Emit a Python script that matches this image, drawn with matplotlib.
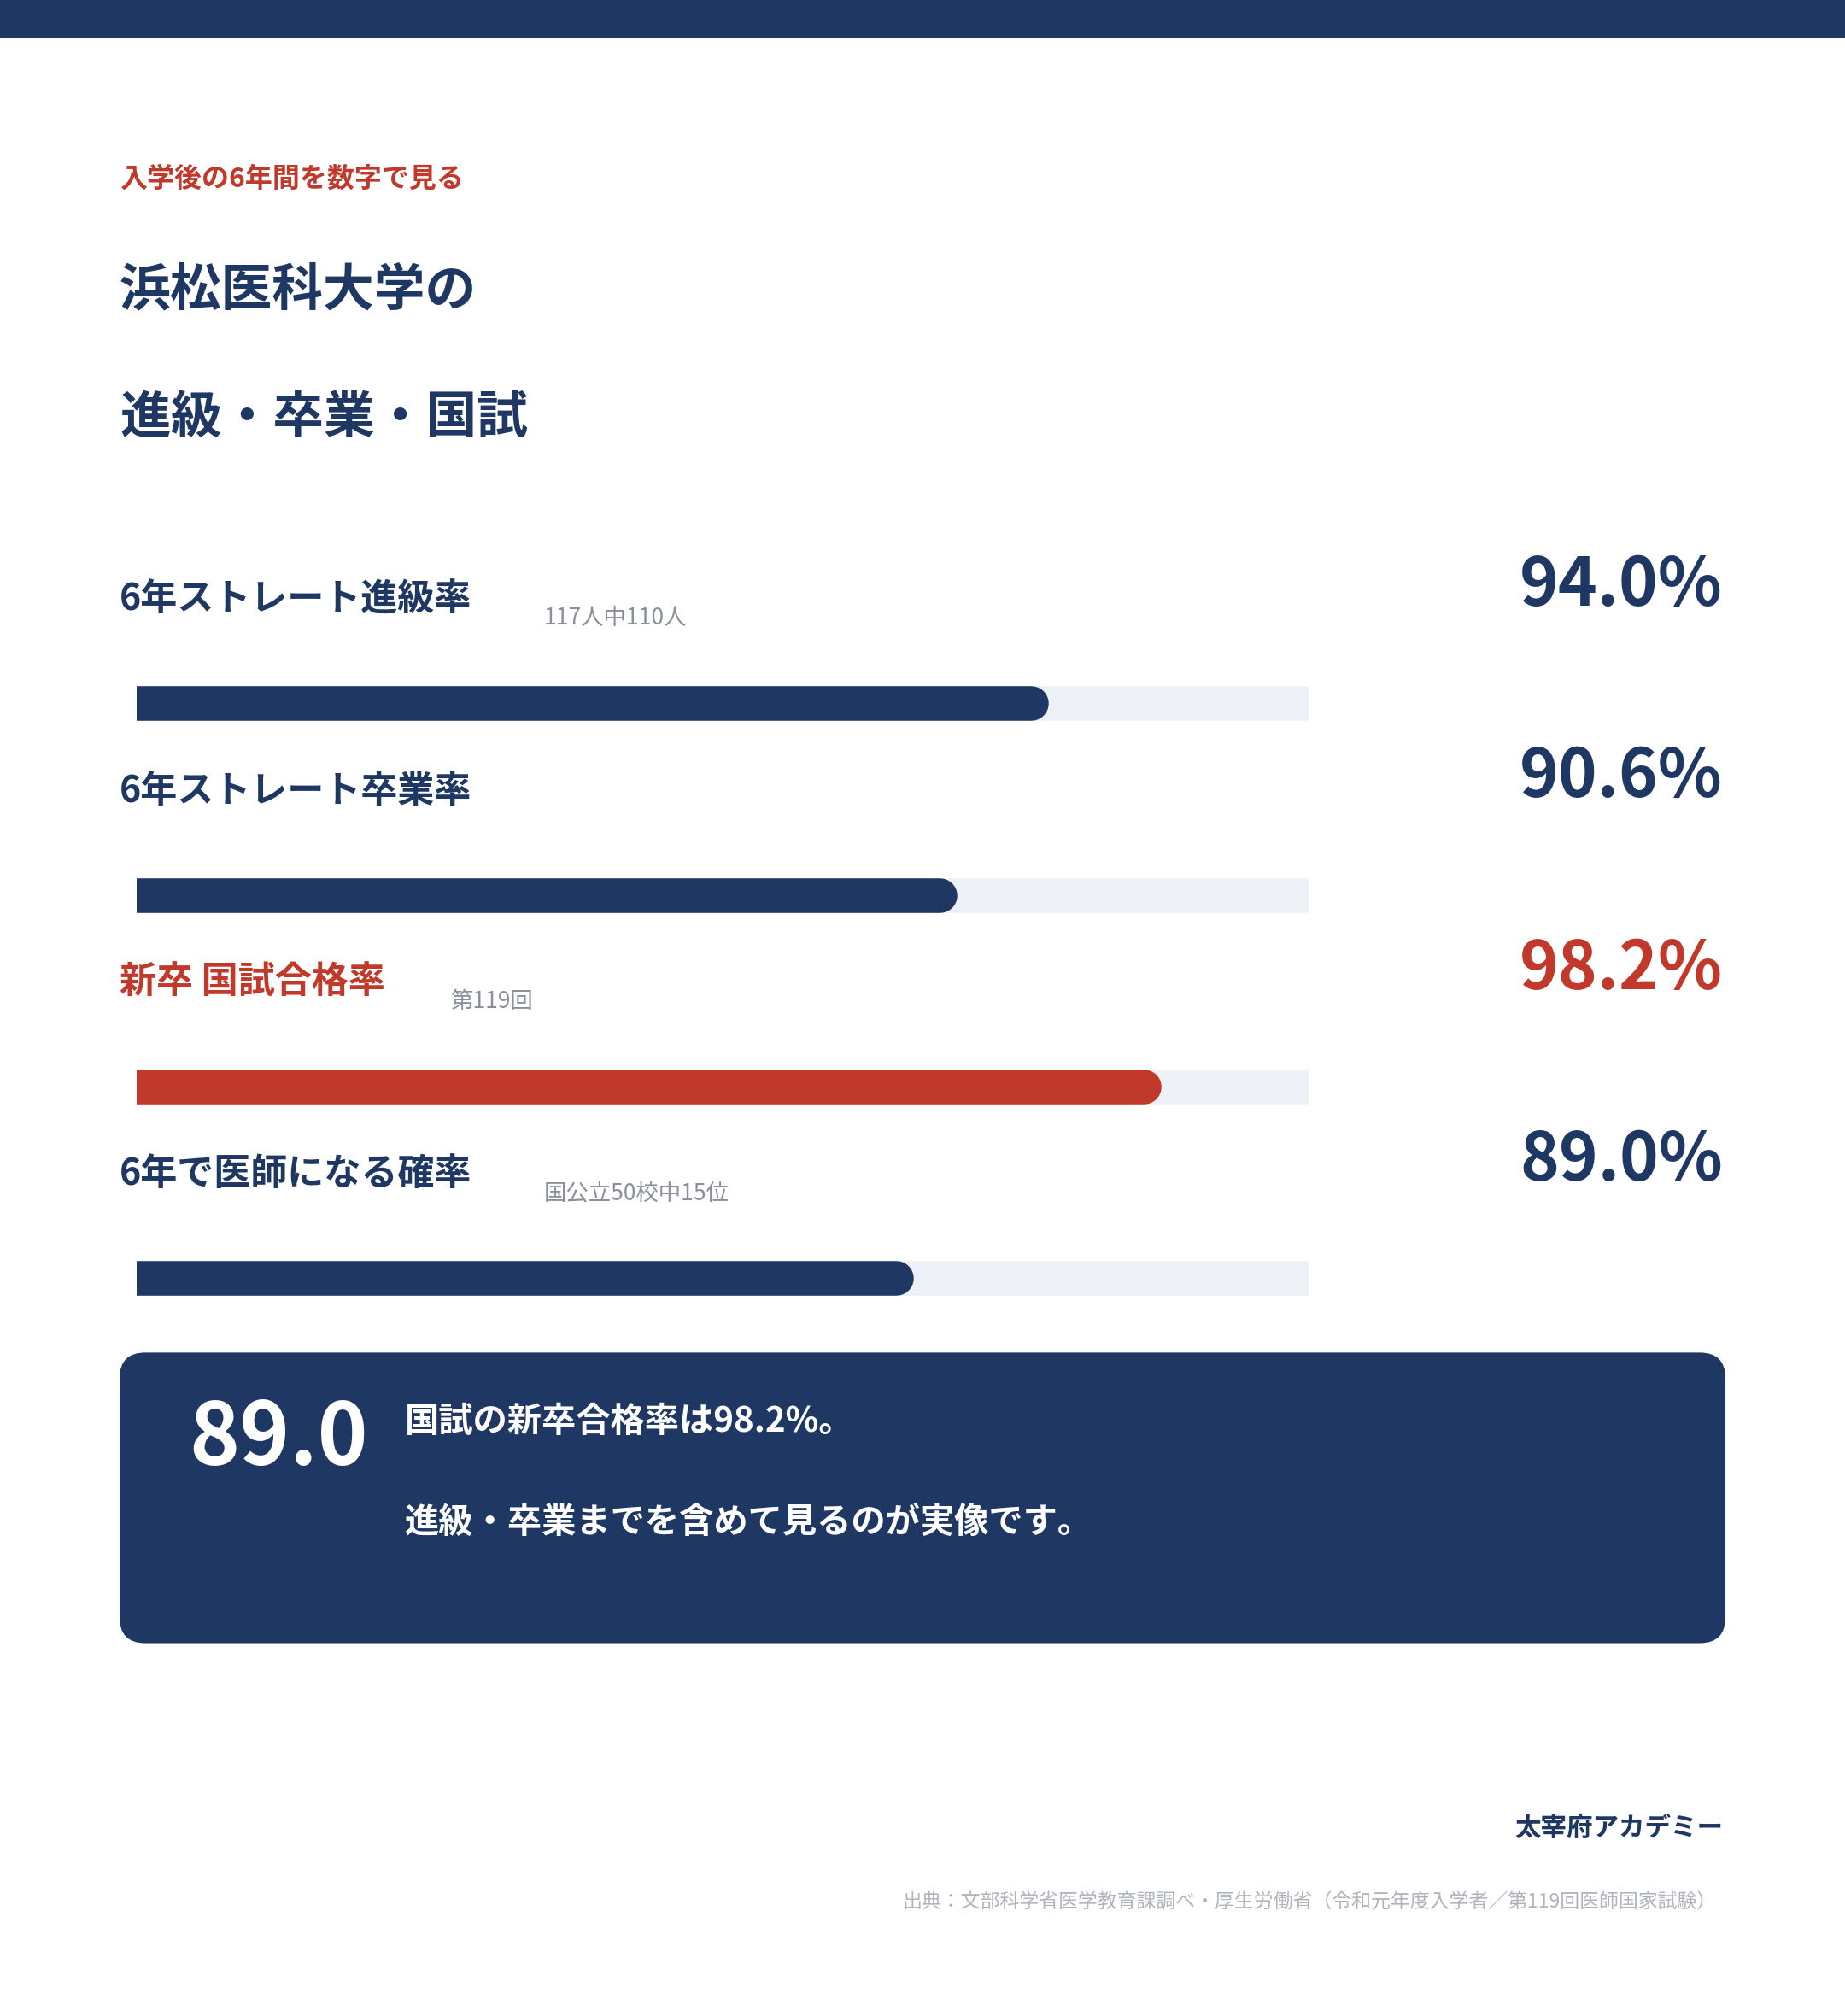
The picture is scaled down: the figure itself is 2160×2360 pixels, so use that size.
import matplotlib
matplotlib.use('Agg')
import matplotlib.pyplot as plt
from matplotlib.patches import FancyBboxPatch, Rectangle

plt.rcParams['font.family'] = ['Noto Sans CJK JP', 'DejaVu Sans']

NAVY = '#1f3863'
RED = '#c0392b'
TRACK = '#edf0f7'

labels = ['6年ストレート進級率', '6年ストレート卒業率', '新卒 国試合格率', '6年で医師になる確率']
notes = ['117人中110人', '', '第119回', '国公立50校中15位']
values = [94.0, 90.6, 98.2, 89.0]
highlight = [False, False, True, False]

W, H = 1435, 1568
fig = plt.figure(figsize=(21.6, 23.6), dpi=100)
ax = fig.add_axes([0, 0, 1, 1])
ax.set_xlim(0, W)
ax.set_ylim(H, 0)
ax.axis('off')

ax.add_patch(Rectangle((0, 0), W, 30, color=NAVY, lw=0))

ax.text(93, 139, '入学後の6年間を数字で見る', color=RED, fontsize=23, fontweight='bold', va='center')
ax.text(93, 226, '浜松医科大学の', color=NAVY, fontsize=43, fontweight='bold', va='center')
ax.text(93, 326, '進級・卒業・国試', color=NAVY, fontsize=43, fontweight='bold', va='center')

# bar scale range (axis limits of the track)
lo, hi = 60.8, 104.3
row_step = 149
for i, (lab, note, v, hl) in enumerate(zip(labels, notes, values, highlight)):
    c = RED if hl else NAVY
    ly = 466 + i * row_step
    t = ax.text(93, ly, lab, color=c, fontsize=31, fontweight='bold', va='center')
    if note:
        nx = [423, 0, 350, 423][i]
        ax.text(nx, ly + 15, note, color='#8a8f99', fontsize=19, va='center')
    ax.text(1340, ly - 10, f'{v:.1f}%', color=c, fontsize=56, fontweight='bold',
            va='center', ha='right')
    by = 547 + i * row_step
    bax = ax.inset_axes([106.5, by - 14, 911, 28], transform=ax.transData)
    bax.set_xlim(lo, hi)
    bax.set_ylim(-1, 1)
    bax.axis('off')
    bax.plot([lo, hi], [0, 0], color=TRACK, lw=29.2, solid_capstyle='round')
    bax.plot([lo, v], [0, 0], color=c, lw=29.2, solid_capstyle='round')

ax.add_patch(FancyBboxPatch((93 + 20, 1052 + 20), 1249 - 40, 226 - 40,
                            boxstyle='round,pad=20', color=NAVY, lw=0))
ax.text(147, 1120, f'{values[3]:.1f}', color='white', fontsize=72, fontweight='bold', va='center')
ax.text(315, 1106, '国試の新卒合格率は98.2%。', color='white', fontsize=29, fontweight='bold', va='center')
ax.text(315, 1184, '進級・卒業までを含めて見るのが実像です。', color='white', fontsize=29, fontweight='bold', va='center')

ax.text(1340, 1422, '太宰府アカデミー', color=NAVY, fontsize=22, fontweight='bold', va='center', ha='right')
ax.text(1335, 1480, '出典：文部科学省医学教育課調べ・厚生労働省（令和元年度入学者／第119回医師国家試験）',
        color='#b0b4bc', fontsize=16.5, va='center', ha='right')

fig.savefig('out.png', dpi=100, facecolor='white')
